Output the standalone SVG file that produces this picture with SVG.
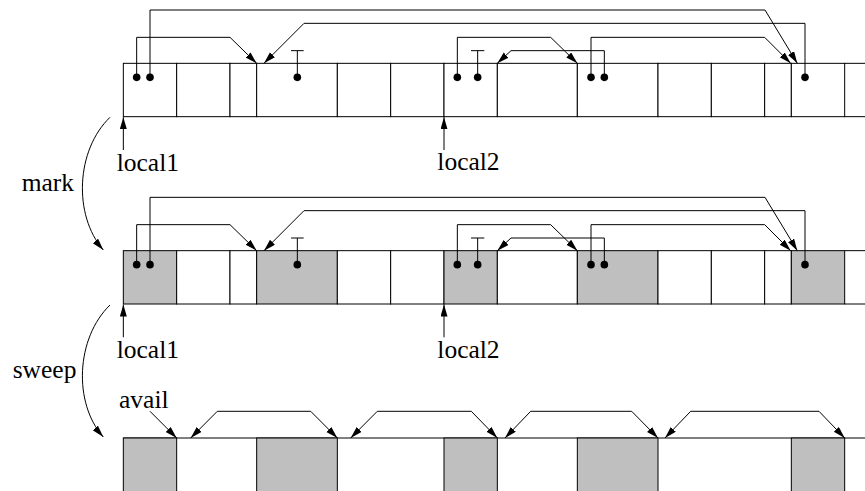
<svg xmlns="http://www.w3.org/2000/svg" width="865" height="491" viewBox="0 0 865 491">
<style>
.cell{fill:#fff;stroke:#000;stroke-width:1}
.cell.g{fill:#bfbfbf}
.ln{fill:none;stroke:#000;stroke-width:1}
.ar{fill:none;stroke:#000;stroke-width:1;marker-end:url(#ah)}
.ar2{fill:none;stroke:#000;stroke-width:1;marker-start:url(#ah);marker-end:url(#ah)}
.dot{fill:#000}
.t{font-family:"Liberation Serif","Times New Roman",serif;font-size:25.5px;fill:#000}
</style>
<defs>
<marker id="ah" markerUnits="userSpaceOnUse" markerWidth="13" markerHeight="8" refX="12" refY="3.5" orient="auto-start-reverse" viewBox="0 0 13 8">
<path d="M0,0 L12,3.5 L0,7 Z" fill="#000"/>
</marker>
</defs>
<rect width="865" height="491" fill="#fff"/>

<!-- Row 1 -->
<g id="row1">
<g id="r1c0"><rect class="cell" x="123.33" y="63.33" width="53.34" height="53.34"/></g>
<g id="r1c1"><rect class="cell" x="176.67" y="63.33" width="53.33" height="53.34"/></g>
<g id="r1c2"><rect class="cell" x="230" y="63.33" width="26.67" height="53.34"/></g>
<g id="r1c3"><rect class="cell" x="256.67" y="63.33" width="80.66" height="53.34"/></g>
<g id="r1c4"><rect class="cell" x="337.33" y="63.33" width="53.34" height="53.34"/></g>
<g id="r1c5"><rect class="cell" x="390.67" y="63.33" width="53.33" height="53.34"/></g>
<g id="r1c6"><rect class="cell" x="444" y="63.33" width="53.33" height="53.34"/></g>
<g id="r1c7"><rect class="cell" x="497.33" y="63.33" width="80" height="53.34"/></g>
<g id="r1c8"><rect class="cell" x="577.33" y="63.33" width="80.67" height="53.34"/></g>
<g id="r1c9"><rect class="cell" x="658" y="63.33" width="53.33" height="53.34"/></g>
<g id="r1c10"><rect class="cell" x="711.33" y="63.33" width="53.34" height="53.34"/></g>
<g id="r1c11"><rect class="cell" x="764.67" y="63.33" width="26.66" height="53.34"/></g>
<g id="r1c12"><rect class="cell" x="791.33" y="63.33" width="53.34" height="53.34"/></g>
<g id="r1c13"><path class="ln" d="M844.67,63.33 H866 M844.67,116.67 H866"/></g>
</g>

<!-- Row 2 -->
<g id="row2">
<g id="r2c0"><rect class="cell g" x="123.33" y="250.67" width="53.34" height="53.33"/></g>
<g id="r2c1"><rect class="cell" x="176.67" y="250.67" width="53.33" height="53.33"/></g>
<g id="r2c2"><rect class="cell" x="230" y="250.67" width="26.67" height="53.33"/></g>
<g id="r2c3"><rect class="cell g" x="256.67" y="250.67" width="80.66" height="53.33"/></g>
<g id="r2c4"><rect class="cell" x="337.33" y="250.67" width="53.34" height="53.33"/></g>
<g id="r2c5"><rect class="cell" x="390.67" y="250.67" width="53.33" height="53.33"/></g>
<g id="r2c6"><rect class="cell g" x="444" y="250.67" width="53.33" height="53.33"/></g>
<g id="r2c7"><rect class="cell" x="497.33" y="250.67" width="80" height="53.33"/></g>
<g id="r2c8"><rect class="cell g" x="577.33" y="250.67" width="80.67" height="53.33"/></g>
<g id="r2c9"><rect class="cell" x="658" y="250.67" width="53.33" height="53.33"/></g>
<g id="r2c10"><rect class="cell" x="711.33" y="250.67" width="53.34" height="53.33"/></g>
<g id="r2c11"><rect class="cell" x="764.67" y="250.67" width="26.66" height="53.33"/></g>
<g id="r2c12"><rect class="cell g" x="791.33" y="250.67" width="53.34" height="53.33"/></g>
<g id="r2c13"><path class="ln" d="M844.67,250.67 H866 M844.67,304 H866"/></g>
</g>

<!-- Row 3 -->
<g id="row3">
<g id="r3line"><path class="ln" d="M123.33,438 H866"/></g>
<g id="r3b0"><rect class="cell g" x="123.33" y="438" width="53.34" height="70"/></g>
<g id="r3b1"><rect class="cell g" x="256.67" y="438" width="80.66" height="70"/></g>
<g id="r3b2"><rect class="cell g" x="444" y="438" width="53.33" height="70"/></g>
<g id="r3b3"><rect class="cell g" x="577.33" y="438" width="80.67" height="70"/></g>
<g id="r3b4"><rect class="cell g" x="791.33" y="438" width="53.34" height="70"/></g>
</g>

<!-- Labels -->
<g id="labels">
<text class="t" x="116.7" y="170.7">local1</text>
<text class="t" x="437.3" y="170.3">local2</text>
<text class="t" x="116.7" y="357.8">local1</text>
<text class="t" x="437.3" y="357.5">local2</text>
<text class="t" x="21.7" y="190.7">mark</text>
<text class="t" x="12.7" y="378.3">sweep</text>
<text class="t" x="119" y="408.3">avail</text>
</g>

<!-- Connectors -->
<g id="connectors">
<g id="ptrs1">
<path class="ar" d="M150,77.33 V10 H765 L797.3,63.33"/>
<path class="ar" d="M136.67,77.33 V37.33 H230 L256.67,63.33"/>
<path class="ar" d="M805,77.33 V23.33 H304 L264,63.33"/>
<path class="ln" d="M297.33,77.33 V50.67 M291,50.67 H303.67"/>
<path class="ar" d="M457.33,77.33 V37.33 H550.67 L577.33,63.33"/>
<path class="ln" d="M477.67,77.33 V50.67 M471,50.67 H484.33"/>
<path class="ar" d="M604.33,77.33 V50.67 H511 L497.33,63.33"/>
<path class="ar" d="M591,77.33 V37.33 H764.67 L790.67,63.33"/>
<circle class="dot" cx="136.67" cy="77.33" r="3.8"/>
<circle class="dot" cx="150" cy="77.33" r="3.8"/>
<circle class="dot" cx="297.33" cy="77.33" r="3.8"/>
<circle class="dot" cx="457.33" cy="77.33" r="3.8"/>
<circle class="dot" cx="477.67" cy="77.33" r="3.8"/>
<circle class="dot" cx="591" cy="77.33" r="3.8"/>
<circle class="dot" cx="604.33" cy="77.33" r="3.8"/>
<circle class="dot" cx="805" cy="77.33" r="3.8"/>
</g>
<g id="ptrs2" transform="translate(0,187.33)">
<path class="ar" d="M150,77.33 V10 H765 L797.3,63.33"/>
<path class="ar" d="M136.67,77.33 V37.33 H230 L256.67,63.33"/>
<path class="ar" d="M805,77.33 V23.33 H304 L264,63.33"/>
<path class="ln" d="M297.33,77.33 V50.67 M291,50.67 H303.67"/>
<path class="ar" d="M457.33,77.33 V37.33 H550.67 L577.33,63.33"/>
<path class="ln" d="M477.67,77.33 V50.67 M471,50.67 H484.33"/>
<path class="ar" d="M604.33,77.33 V50.67 H511 L497.33,63.33"/>
<path class="ar" d="M591,77.33 V37.33 H764.67 L790.67,63.33"/>
<circle class="dot" cx="136.67" cy="77.33" r="3.8"/>
<circle class="dot" cx="150" cy="77.33" r="3.8"/>
<circle class="dot" cx="297.33" cy="77.33" r="3.8"/>
<circle class="dot" cx="457.33" cy="77.33" r="3.8"/>
<circle class="dot" cx="477.67" cy="77.33" r="3.8"/>
<circle class="dot" cx="591" cy="77.33" r="3.8"/>
<circle class="dot" cx="604.33" cy="77.33" r="3.8"/>
<circle class="dot" cx="805" cy="77.33" r="3.8"/>
</g>
<path class="ar" d="M123.33,150 V117.2"/>
<path class="ar" d="M444,150 V117.2"/>
<path class="ar" d="M123.33,337.3 V304.5"/>
<path class="ar" d="M444,337.3 V304.5"/>
<path class="ar" d="M110,117.3 C76,150 73,215 103.3,250"/>
<path class="ar" d="M110,305 C76,338 73,403 103.3,437"/>
<path class="ar" d="M150,411.3 L176.67,438"/>
<path class="ar2" d="M190.7,438 L217.3,411.3 H310.7 L337.33,438"/>
<path class="ar2" d="M350.7,438 L377.3,411.3 H471.3 L497.33,438"/>
<path class="ar2" d="M505,438 L530.7,411.3 H631.7 L658,438"/>
<path class="ar2" d="M665,438 L690.7,411.3 H819 L844.67,438"/>
</g>
</svg>
